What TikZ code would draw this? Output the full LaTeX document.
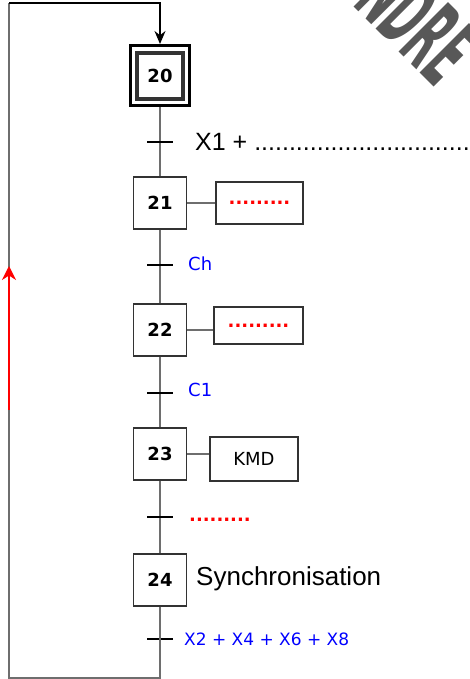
\documentclass[tikz,border=0pt]{standalone}
\usepackage{fontspec}
\setmainfont{DejaVu Sans}
\newfontfamily\arialfont{Liberation Sans}
\newfontfamily\wmfont{DejaVu Sans}[FakeStretch=0.4]
\usetikzlibrary{arrows.meta}
\definecolor{liengris}{RGB}{110,110,110}
\definecolor{wmgris}{RGB}{88,88,88}

\begin{document}
\begin{tikzpicture}[x=1pt,y=-1pt,
        etape/.style={draw=black!80,line width=1.2pt,minimum width=53pt,minimum height=52pt,inner sep=0pt,font=\fontsize{18}{20}\selectfont\bfseries},
        action/.style={draw=black!80,line width=1.2pt,inner sep=0pt,font=\fontsize{18}{20}\selectfont},
        recept/.style={anchor=base west,inner sep=0pt,font=\fontsize{18}{20}\selectfont,text=blue},
        lien/.style={liengris,line width=1.4pt},
        trait/.style={black,line width=1.2pt},
        rouge/.style={text=red,font=\fontsize{18}{20}\selectfont\bfseries}]
        \useasboundingbox (0,0) rectangle (470,679);

        % watermark, cut by the page edge
        \begin{scope}
            \clip (0,0) rectangle (470,679);
            \node[wmgris,rotate=-45,anchor=base east,inner sep=0pt,font=\wmfont\bfseries\fontsize{96}{96}\selectfont] (filigrane) at (436,89) {NDRE};
        \end{scope}

        % steps
        \node[etape,line width=3.5pt,minimum width=46pt,minimum height=46pt] (s20) at (160,76) {20};
        \node[draw,line width=3pt,minimum width=59pt,minimum height=60pt,inner sep=0pt] (s20c) at (160,75.5) {};
        \node[etape] (s21) at (160,203) {21};
        \node[etape] (s22) at (160,330) {22};
        \node[etape] (s23) at (160,454) {23};
        \node[etape] (s24) at (160,580) {24};

        % actions
        \node[action,minimum width=87pt,minimum height=42pt] (a21) at (259.5,203) {\textcolor{red}{\bfseries .........}};
        \node[action,minimum width=89pt,minimum height=37pt] (a22) at (258.5,325.5) {\textcolor{red}{\bfseries .........}};
        \node[action,minimum width=88pt,minimum height=44pt] (a23) at (254,459) {KMD};
        \node[anchor=base west,inner sep=0pt,font=\arialfont\fontsize{26}{28}\selectfont] (a24) at (196,585) {Synchronisation};

        % transitions
        \coordinate (t1) at (160,142);
        \coordinate (t2) at (160,265);
        \coordinate (t3) at (160,393);
        \coordinate (t4) at (160,517);
        \coordinate (t5) at (160,639);

        \draw[lien] (s20c.south) -- (s21.north);
        \draw[lien] (s21.south) -- (s22.north);
        \draw[lien] (s22.south) -- (s23.north);
        \draw[lien] (s23.south) -- (s24.north);

        \draw[trait] (t1) ++(-13,0) -- ++(26,0);
        \draw[trait] (t2) ++(-13,0) -- ++(26,0);
        \draw[trait] (t3) ++(-13,0) -- ++(26,0);
        \draw[trait] (t4) ++(-13,0) -- ++(26,0);
        \draw[trait] (t5) ++(-13,0) -- ++(26,0);

        \draw[lien] (s21.east) -- (s21.east -| a21.west);
        \draw[lien] (s22.east) -- (s22.east -| a22.west);
        \draw[lien] (s23.east) -- (s23.east -| a23.west);

        \node[anchor=base west,inner sep=0pt,font=\arialfont\fontsize{25}{28}\selectfont] (r1) at (195,150) {X1 + ...............................};
        \node[recept] (r2) at (188,270) {Ch};
        \node[recept] (r3) at (188,396) {C1};
        \node[rouge,anchor=base west,inner sep=0pt] (r4) at (189,521) {.........};
        \node[recept,font=\fontsize{17}{20}\selectfont] (r5) at (184,645) {X2 + X4 + X6 + X8};

        % loop back to the initial step
        \coordinate (g1) at (9,678);
        \coordinate (g2) at (9,3);
        \draw[lien] (s24.south) |- (g1) -- (g2);
        \draw[black,line width=1.2pt,-{Stealth[length=13pt,width=11pt]}] (g2) -| (s20c.north);

        \coordinate (f1) at (9,410);
        \coordinate (f2) at (9,266);
        \draw[red,line width=2pt,-{Stealth[length=14pt,width=14pt]}] (f1) -- (f2);
    \end{tikzpicture}
\end{document}
